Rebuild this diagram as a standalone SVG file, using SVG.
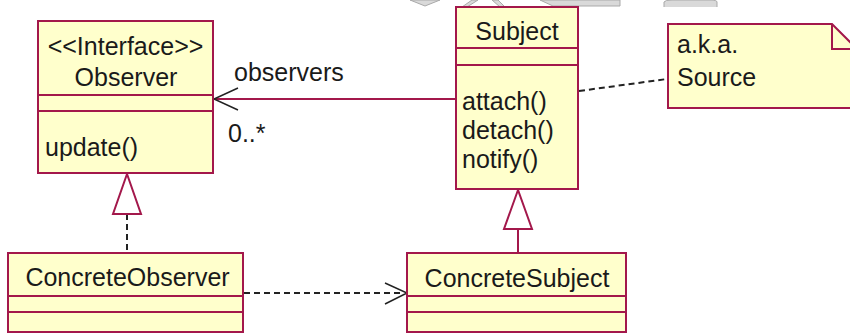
<svg xmlns="http://www.w3.org/2000/svg" width="850" height="333" viewBox="0 0 850 333">
  <style>
    .box { fill: #ffffcc; stroke: #a3184b; stroke-width: 2; }
    .div { stroke: #a3184b; stroke-width: 2; fill: none; }
    .lbl { font-family: "Liberation Sans", Arial, sans-serif; font-size: 25px; fill: #1a1a1a; }
    .mid { text-anchor: middle; }
    .assoc { stroke: #a3184b; stroke-width: 2; fill: none; }
    .dash { stroke: #222; stroke-width: 2; stroke-dasharray: 6 4; fill: none; }
    .head { stroke: #222; stroke-width: 1.5; fill: none; }
    .tri { fill: #ffffff; stroke: #a3184b; stroke-width: 2; }
    .bg { fill: #d9d9d9; stroke: #a9a9a9; stroke-width: 1; }
  </style>

  <rect width="850" height="333" fill="#ffffff"/>

  <!-- faint shapes along the top edge -->
  <g id="backdrop">
    <path class="bg" d="M410,0 L425,6 L440,0 Z"/>
    <path class="bg" d="M462,7 L472,0 L478,0 L467,7 Z"/>
    <path class="bg" d="M492,0 L498,0 L504,6 L500,7 Z"/>
    <path class="bg" d="M540,0 L620,0 L620,6 L553,6 Z"/>
    <path class="bg" d="M664,7 L664,2 Q665,0 672,0 L710,0 Q717,0 717,2 L717,7"/>
  </g>

  <g id="connectors">
    <!-- Subject -> Observer association -->
    <line class="assoc" x1="456" y1="99" x2="214" y2="99"/>
    <polyline class="head" points="238,88 214,99 238,110"/>
    <!-- ConcreteObserver realizes Observer -->
    <line class="dash" x1="127" y1="214" x2="127" y2="253"/>
    <polygon class="tri" points="127,174 113,214 141,214"/>
    <!-- ConcreteSubject extends Subject -->
    <line class="assoc" x1="518" y1="229" x2="518" y2="253"/>
    <polygon class="tri" points="518,190 504,229 532,229"/>
    <!-- ConcreteObserver depends on ConcreteSubject -->
    <line class="dash" x1="244" y1="293" x2="404" y2="293"/>
    <polyline class="head" points="385,283 407,293 385,304"/>
    <!-- note anchor -->
    <line class="dash" x1="579" y1="91" x2="667" y2="79"/>
  </g>

  <g id="labels">
    <text class="lbl" x="234" y="81">observers</text>
    <text class="lbl" x="228" y="142">0..*</text>
  </g>

  <g id="observer">
    <rect class="box" x="38" y="21" width="175" height="152"/>
    <line class="div" x1="38" y1="95" x2="213" y2="95"/>
    <line class="div" x1="38" y1="111" x2="213" y2="111"/>
    <text class="lbl mid" x="125.5" y="55">&lt;&lt;Interface&gt;&gt;</text>
    <text class="lbl mid" x="126" y="86">Observer</text>
    <text class="lbl" x="45" y="156">update()</text>
  </g>

  <g id="subject">
    <rect class="box" x="456" y="7" width="122" height="182"/>
    <line class="div" x1="456" y1="48" x2="578" y2="48"/>
    <line class="div" x1="456" y1="65" x2="578" y2="65"/>
    <text class="lbl mid" x="517" y="40">Subject</text>
    <text class="lbl" x="462" y="110">attach()</text>
    <text class="lbl" x="462" y="139">detach()</text>
    <text class="lbl" x="462" y="168">notify()</text>
  </g>

  <g id="note">
    <path class="box" d="M668,24 H832 L856,48 V108 H668 Z"/>
    <path class="div" d="M832,24 V49 H856"/>
    <text class="lbl" x="677" y="53">a.k.a.</text>
    <text class="lbl" x="677" y="86">Source</text>
  </g>

  <g id="concrete-observer">
    <rect class="box" x="8" y="253" width="235" height="79"/>
    <line class="div" x1="8" y1="296" x2="243" y2="296"/>
    <line class="div" x1="8" y1="312" x2="243" y2="312"/>
    <text class="lbl mid" x="127.5" y="286">ConcreteObserver</text>
  </g>

  <g id="concrete-subject">
    <rect class="box" x="407" y="253" width="219" height="79"/>
    <line class="div" x1="407" y1="296" x2="626" y2="296"/>
    <line class="div" x1="407" y1="312" x2="626" y2="312"/>
    <text class="lbl mid" x="517" y="287">ConcreteSubject</text>
  </g>
</svg>
